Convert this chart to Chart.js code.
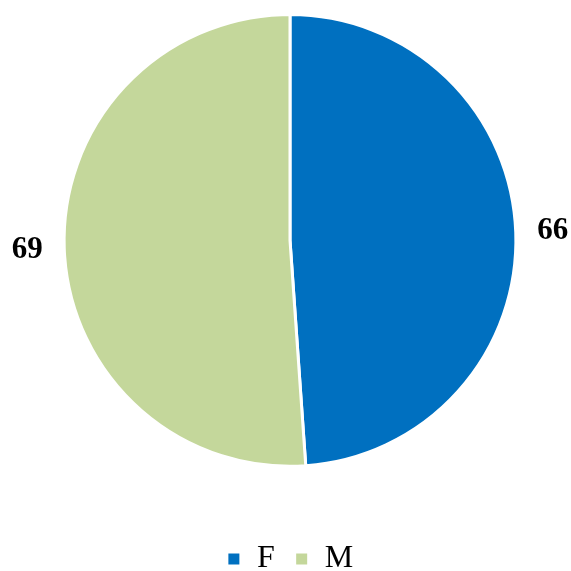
<!DOCTYPE html>
<html>
<head>
<meta charset="utf-8">
<script src="https://cdn.jsdelivr.net/npm/chart.js@4/dist/chart.umd.min.js"></script>
<style>
  html, body { margin: 0; padding: 0; background: #fff; }
  #wrap { width: 571px; height: 571px; position: relative; }
</style>
</head>
<body>
<div id="wrap"><canvas id="pie"></canvas></div>
<script>
// data
const categories = ['F', 'M'];
const values = [66, 69];
const colours = ['#0070C0', '#C4D79B'];

// outside value labels, placed along the middle of each slice
const outsideLabels = {
    id: 'outsideLabels',
    afterDatasetsDraw(chart) {
        const ctx = chart.ctx;
        const meta = chart.getDatasetMeta(0);
        ctx.save();
        ctx.font = 'bold 31px "Liberation Serif", serif';
        ctx.fillStyle = '#000';
        ctx.textAlign = 'center';
        ctx.textBaseline = 'middle';
        meta.data.forEach((arc, i) => {
            const p = arc.getProps(['x', 'y', 'startAngle', 'endAngle', 'outerRadius'], true);
            const mid = (p.startAngle + p.endAngle) / 2;
            const r = p.outerRadius + 37;
            ctx.fillText(String(values[i]), p.x + Math.cos(mid) * r, p.y + Math.sin(mid) * r);
        });
        ctx.restore();
    }
};

new Chart(document.getElementById('pie'), {
    type: 'pie',
    data: {
        labels: categories,
        datasets: [{
            data: values,
            backgroundColor: colours,
            borderColor: '#fff',
            borderWidth: 3
        }]
    },
    options: {
        responsive: true,
        maintainAspectRatio: false,
        animation: false,
        layout: { padding: { top: 13, left: 9, right: 0, bottom: -14 } },
        plugins: {
            tooltip: { enabled: false },
            legend: {
                position: 'bottom',
                title: { display: true, text: ' ', font: { size: 1 }, padding: { top: 54, bottom: 0 } },
                labels: {
                    boxWidth: 14,
                    boxHeight: 14,
                    padding: 20,
                    color: '#000',
                    font: { family: '"Liberation Serif", serif', size: 32 }
                }
            }
        }
    },
    plugins: [outsideLabels]
});
</script>
</body>
</html>
